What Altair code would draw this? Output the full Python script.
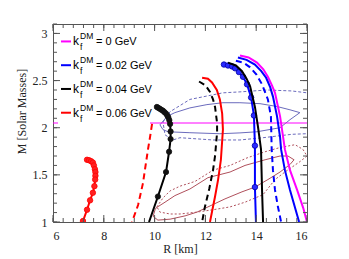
import altair as alt
import pandas as pd

# ---------------- axis ticks ----------------
X_TICKS = [6, 8, 10, 12, 14, 16]
Y_TICKS = [1, 1.5, 2, 2.5, 3]
X_MINOR = [round(6 + 0.4 * i, 2) for i in range(26)]
Y_MINOR = [round(1 + 0.1 * i, 2) for i in range(22)]

# ---------------- mass-radius curves ----------------
mag_r = [13.36, 13.70, 14.03, 14.28, 14.46, 14.62, 14.74, 14.94, 15.06, 15.13, 15.33, 15.61, 15.85, 16.0]
mag_m = [2.765, 2.745, 2.69, 2.62, 2.54, 2.45, 2.37, 2.12, 1.90, 1.77, 1.55, 1.34, 1.15, 1.0]

blue_r = [13.28, 13.62, 13.95, 14.20, 14.39, 14.55, 14.66, 14.82, 14.94, 14.98, 15.13, 15.33, 15.69]
blue_m = [2.745, 2.72, 2.67, 2.60, 2.53, 2.43, 2.33, 2.12, 1.90, 1.77, 1.55, 1.34, 1.0]

blued_r = [13.20, 13.50, 13.76, 14.02, 14.23, 14.46, 14.58, 14.61, 14.66, 14.74, 14.85, 14.98]
blued_m = [2.71, 2.69, 2.64, 2.56, 2.46, 2.30, 2.12, 1.77, 1.55, 1.34, 1.17, 1.0]

bluec_r = [12.73, 12.89, 13.05, 13.17, 13.32, 13.48, 13.64, 13.80, 13.91, 13.95, 13.95, 13.99]
bluec_m = [2.67, 2.66, 2.65, 2.63, 2.59, 2.54, 2.46, 2.32, 2.13, 1.81, 1.37, 1.0]

black_r = [12.89, 13.20, 13.44, 13.62, 13.76, 13.95, 14.07, 14.19, 14.23, 14.27]
black_m = [2.69, 2.66, 2.60, 2.52, 2.44, 2.22, 2.01, 1.77, 1.34, 1.0]

blackd_r = [11.75, 12.00, 12.18, 12.30, 12.38, 12.46, 12.46, 12.38, 12.30, 12.15, 11.98, 11.87]
blackd_m = [2.49, 2.45, 2.38, 2.30, 2.22, 2.05, 1.95, 1.70, 1.55, 1.35, 1.16, 1.0]

blackc_r = [10.09, 10.15, 10.21, 10.27, 10.33, 10.39, 10.45, 10.50, 10.54, 10.58, 10.61, 10.63, 10.63, 10.57, 10.45, 10.13, 9.78]
blackc_m = [2.22, 2.21, 2.20, 2.19, 2.18, 2.165, 2.15, 2.13, 2.11, 2.08, 2.04, 1.96, 1.88, 1.745, 1.53, 1.27, 1.0]

red_r = [11.87, 12.10, 12.26, 12.45, 12.57, 12.66, 12.69, 12.61, 12.50, 12.38, 12.18]
red_m = [2.53, 2.52, 2.48, 2.40, 2.30, 2.15, 1.98, 1.66, 1.45, 1.27, 1.0]

redd_r = [9.90, 9.82, 9.74, 9.54, 9.35, 9.11]
redd_m = [2.04, 1.90, 1.77, 1.41, 1.18, 1.0]

redc_r = [7.34, 7.42, 7.50, 7.57, 7.61, 7.65, 7.67, 7.67, 7.66, 7.63, 7.57, 7.46, 7.34, 7.18]
redc_m = [1.66, 1.655, 1.645, 1.63, 1.60, 1.56, 1.53, 1.49, 1.45, 1.38, 1.31, 1.23, 1.13, 1.01]

# ---------------- observational contours ----------------
cb_r = [10.21, 10.49, 10.80, 11.39, 12.06, 12.69, 13.36, 14.15, 14.82, 15.33, 15.72, 15.33, 14.94, 14.03, 13.36, 12.57, 11.39, 10.53, 10.33, 10.21]
cb_m = [2.03, 2.12, 2.16, 2.21, 2.245, 2.265, 2.265, 2.255, 2.225, 2.19, 2.16, 2.085, 2.0, 1.957, 1.945, 1.936, 1.947, 1.957, 1.98, 2.03]

cbd_r = [10.33, 10.61, 11.39, 12.69, 13.36, 14.43, 15.40, 16.3, 16.3, 15.40, 14.27, 13.36, 12.30, 11.0, 10.72, 10.41, 10.33]
cbd_m = [2.06, 2.17, 2.30, 2.37, 2.38, 2.40, 2.39, 2.36, 1.94, 1.93, 1.894, 1.87, 1.87, 1.894, 1.87, 1.925, 2.06]

cr_r = [10.06, 10.41, 10.80, 11.39, 12.10, 12.97, 13.56, 14.35, 14.94, 15.25, 15.49, 15.33, 14.94, 14.46, 13.95, 13.44, 12.77, 12.10, 11.67, 11.20, 10.61, 10.13, 9.94, 10.02, 10.06]
cr_m = [1.15, 1.21, 1.28, 1.35, 1.47, 1.53, 1.60, 1.66, 1.70, 1.70, 1.66, 1.61, 1.53, 1.45, 1.37, 1.32, 1.245, 1.16, 1.105, 1.065, 1.03, 1.02, 1.06, 1.13, 1.15]

crd_r = [10.09, 10.33, 10.61, 11.0, 11.59, 12.30, 12.97, 13.64, 14.35, 14.94, 15.53, 15.84, 16.0, 15.72, 15.13, 14.74, 14.27, 13.56, 12.97, 12.30, 11.67, 11.0, 10.61, 10.21, 10.09]
crd_m = [1.16, 1.255, 1.33, 1.38, 1.43, 1.55, 1.60, 1.68, 1.745, 1.79, 1.82, 1.77, 1.70, 1.64, 1.53, 1.45, 1.29, 1.21, 1.16, 1.13, 1.105, 1.085, 1.085, 1.105, 1.16]

HLINE_M = [2.05]

LEGEND_K = ["0", "0.02", "0.04", "0.06"]
LEGEND_COLORS = ["#ff00ff", "#0000ff", "#000000", "#ff0000"]

# ---------------- helpers ----------------
W, H = 254, 198
xs = alt.Scale(domain=[6, 16], nice=False, zero=False)
ys = alt.Scale(domain=[1, 3.1], nice=False, zero=False)
SERIF = "Liberation Serif"
SANS = "Liberation Sans"
TICK_COL = "#555555"
MAJ, MIN = 7, 4


def df_of(r, m):
    return pd.DataFrame({"R": r, "M": m, "i": list(range(len(r)))})


X_AXIS = alt.Axis(orient="bottom", values=X_TICKS, ticks=False, tickSize=0, domain=False,
                  grid=False, labelFont=SERIF, labelFontSize=12, labelColor="#222",
                  labelPadding=8, title="R [km]", titleFont=SERIF, titleFontSize=12,
                  titleFontWeight="normal", titleColor="#222", titlePadding=2, format="d")
Y_AXIS = alt.Axis(orient="left", values=Y_TICKS, ticks=False, tickSize=0, domain=False,
                  grid=False, labelFont=SERIF, labelFontSize=12, labelColor="#222",
                  labelPadding=6, title="M [Solar Masses]", titleFont=SERIF, titleFontSize=12,
                  titleFontWeight="normal", titleColor="#222", titlePadding=4, format="~g",
                  titleY=87)


def line(r, m, color, width=2.0, dash=None, axes=False):
    kw = dict(color=color, strokeWidth=width, clip=True)
    if dash:
        kw["strokeDash"] = dash
    return alt.Chart(df_of(r, m)).mark_line(**kw).encode(
        x=alt.X("R:Q", scale=xs, axis=X_AXIS if axes else None),
        y=alt.Y("M:Q", scale=ys, axis=Y_AXIS if axes else None),
        order="i:Q",
    )


def points(r, m, color, size=28, stroke=None):
    return alt.Chart(df_of(r, m)).mark_point(
        filled=True, fill=color, stroke=stroke or color, strokeWidth=0.8,
        size=size, opacity=1, clip=True
    ).encode(
        x=alt.X("R:Q", scale=xs, axis=None),
        y=alt.Y("M:Q", scale=ys, axis=None),
    )


def xticks(values, size, bottom):
    y0, y1 = (H, H - size) if bottom else (0, size)
    return alt.Chart(pd.DataFrame({"v": values})).mark_rule(color=TICK_COL, strokeWidth=1).encode(
        x=alt.X("v:Q", scale=xs, axis=None), y=alt.value(y0), y2=alt.value(y1)
    )


def yticks(values, size, left):
    x0, x1 = (0, size) if left else (W, W - size)
    return alt.Chart(pd.DataFrame({"v": values})).mark_rule(color=TICK_COL, strokeWidth=1).encode(
        y=alt.Y("v:Q", scale=ys, axis=None), x=alt.value(x0), x2=alt.value(x1)
    )


ticks = [
    xticks(X_MINOR, MIN, True), xticks(X_TICKS, MAJ, True),
    xticks(X_MINOR, MIN, False), xticks(X_TICKS, MAJ, False),
    yticks(Y_MINOR, MIN, True), yticks(Y_TICKS, MAJ, True),
    yticks(Y_MINOR, MIN, False), yticks(Y_TICKS, MAJ, False),
]

CB = "#6b6bbd"
CR = "#b0505c"

contours = [
    line(cb_r, cb_m, CB, 1.0, None, True),
    line(cbd_r, cbd_m, CB, 1.0, [3, 2]),
    line(cr_r, cr_m, CR, 1.0),
    line(crd_r, crd_m, CR, 1.0, [2, 2]),
]

hline = alt.Chart(pd.DataFrame({"M": HLINE_M})).mark_rule(color="#ff00ff", strokeWidth=1).encode(
    y=alt.Y("M:Q", scale=ys, axis=None)
)

legend_bg = alt.Chart(pd.DataFrame({"a": [0]})).mark_rect(color="white").encode(
    x=alt.value(5), x2=alt.value(97), y=alt.value(8), y2=alt.value(104)
)

curves = [
    line(mag_r, mag_m, "#ff00ff", 2.0),
    line(blue_r, blue_m, "#0000ff", 2.0),
    line(blued_r, blued_m, "#0000ff", 2.0, [6, 4]),
    line(bluec_r, bluec_m, "#0000ff", 2.0),
    points(bluec_r[:-1], bluec_m[:-1], "#2a2aff", 30, "#0000aa"),
    line(black_r, black_m, "#000000", 2.0),
    line(blackd_r, blackd_m, "#000000", 2.0, [6, 4]),
    line(blackc_r, blackc_m, "#000000", 2.0),
    points(blackc_r[:-1], blackc_m[:-1], "#111111", 28),
    line(red_r, red_m, "#ff0000", 2.0),
    line(redd_r, redd_m, "#ff0000", 2.0, [6, 4]),
    line(redc_r, redc_m, "#ff0000", 2.0),
    points(redc_r, redc_m, "#ff2020", 30, "#ff0000"),
]

leg_df = pd.DataFrame({"k": LEGEND_K, "color": LEGEND_COLORS, "row": list(range(len(LEGEND_K)))})
leg_base = alt.Chart(leg_df).transform_calculate(
    yc="2.915 - 0.252 * datum.row", txt="'= ' + datum.k + ' GeV'"
)
leg_y = alt.Y("yc:Q", scale=ys, axis=None)

legend = [
    leg_base.mark_rule(strokeWidth=2).encode(
        x=alt.value(8), x2=alt.value(18), y=leg_y, color=alt.Color("color:N", scale=None)
    ),
    leg_base.mark_text(text="k", align="left", baseline="alphabetic", dy=4, font=SANS,
                       fontSize=12, color="black").encode(x=alt.value(20), y=leg_y),
    leg_base.mark_text(text="DM", align="left", baseline="alphabetic", dy=-2, font=SANS,
                       fontSize=8.5, color="black").encode(x=alt.value(27), y=leg_y),
    leg_base.mark_text(text="f", align="left", baseline="alphabetic", dy=9, font=SANS,
                       fontSize=8.5, color="black").encode(x=alt.value(27), y=leg_y),
    leg_base.mark_text(align="left", baseline="alphabetic", dy=4, font=SANS,
                       fontSize=11, color="black").encode(x=alt.value(43), y=leg_y, text="txt:N"),
]

chart = alt.layer(*contours, hline, legend_bg, *curves, *ticks, *legend).resolve_axis(
    x="independent", y="independent"
).properties(
    width=W, height=H,
    autosize=alt.AutoSizeParams(type="none"),
    padding={"left": 45, "top": 16, "right": 20, "bottom": 37},
    background="white",
).configure_view(stroke=TICK_COL, strokeWidth=1)

chart.save("out.html", embed_options={"renderer": "svg", "actions": False})
